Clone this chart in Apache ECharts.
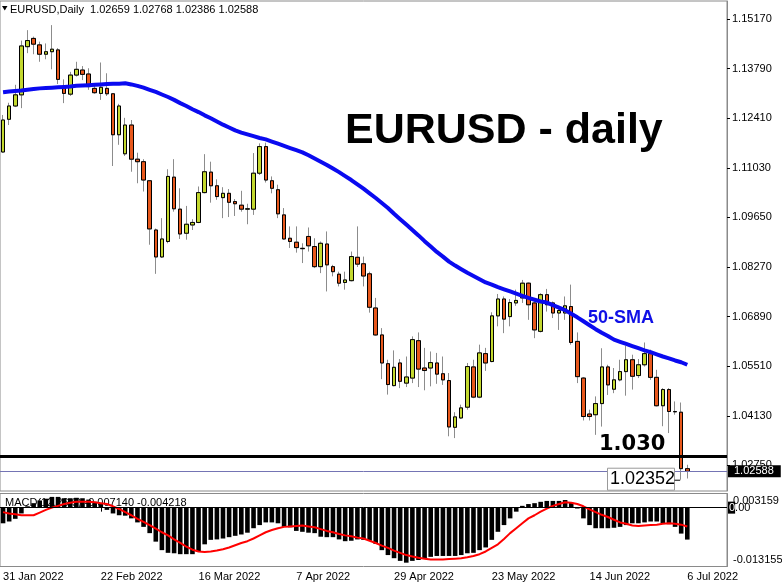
<!DOCTYPE html>
<html><head><meta charset="utf-8">
<script src="https://cdn.jsdelivr.net/npm/echarts@6/dist/echarts.min.js"></script>
<style>html,body{margin:0;padding:0;background:#fff}#c{width:782px;height:587px}</style>
</head><body><div id="c"></div>
<script>
// ---------------- data ----------------
const dates = ['31 Jan 2022','1 Feb 2022','2 Feb 2022','3 Feb 2022','4 Feb 2022','7 Feb 2022','8 Feb 2022','9 Feb 2022','10 Feb 2022','11 Feb 2022',
'14 Feb 2022','15 Feb 2022','16 Feb 2022','17 Feb 2022','18 Feb 2022','21 Feb 2022','22 Feb 2022','23 Feb 2022','24 Feb 2022','25 Feb 2022',
'28 Feb 2022','1 Mar 2022','2 Mar 2022','3 Mar 2022','4 Mar 2022','7 Mar 2022','8 Mar 2022','9 Mar 2022','10 Mar 2022','11 Mar 2022',
'14 Mar 2022','15 Mar 2022','16 Mar 2022','17 Mar 2022','18 Mar 2022','21 Mar 2022','22 Mar 2022','23 Mar 2022','24 Mar 2022','25 Mar 2022',
'28 Mar 2022','29 Mar 2022','30 Mar 2022','31 Mar 2022','1 Apr 2022','4 Apr 2022','5 Apr 2022','6 Apr 2022','7 Apr 2022','8 Apr 2022',
'11 Apr 2022','12 Apr 2022','13 Apr 2022','14 Apr 2022','15 Apr 2022','18 Apr 2022','19 Apr 2022','20 Apr 2022','21 Apr 2022','22 Apr 2022',
'25 Apr 2022','26 Apr 2022','27 Apr 2022','28 Apr 2022','29 Apr 2022','2 May 2022','3 May 2022','4 May 2022','5 May 2022','6 May 2022',
'9 May 2022','10 May 2022','11 May 2022','12 May 2022','13 May 2022','16 May 2022','17 May 2022','18 May 2022','19 May 2022','20 May 2022',
'23 May 2022','24 May 2022','25 May 2022','26 May 2022','27 May 2022','30 May 2022','31 May 2022','1 Jun 2022','2 Jun 2022','3 Jun 2022',
'6 Jun 2022','7 Jun 2022','8 Jun 2022','9 Jun 2022','10 Jun 2022','13 Jun 2022','14 Jun 2022','15 Jun 2022','16 Jun 2022','17 Jun 2022',
'20 Jun 2022','21 Jun 2022','22 Jun 2022','23 Jun 2022','24 Jun 2022','27 Jun 2022','28 Jun 2022','29 Jun 2022','30 Jun 2022','1 Jul 2022',
'4 Jul 2022','5 Jul 2022','6 Jul 2022'];

const openP = [1.1147,1.1238,1.1275,1.1306,1.1440,1.1463,1.1445,1.1419,1.1426,1.1431,
1.1329,1.1308,1.1361,1.1375,1.1364,1.1324,1.1310,1.1324,1.1309,1.1195,
1.1142,1.1222,1.1127,1.1120,1.1067,1.0930,1.0855,1.0898,1.1077,1.0988,
1.0921,1.0944,1.0951,1.1034,1.1091,1.1053,1.1020,1.1032,1.1009,1.0999,
1.0988,1.0988,1.1088,1.1162,1.1067,1.1042,1.0972,1.0907,1.0896,1.0879,
1.0912,1.0884,1.0828,1.0891,1.0828,1.0807,1.0784,1.0789,1.0854,1.0836,
1.0808,1.0713,1.0638,1.0558,1.0497,1.0560,1.0504,1.0518,1.0622,1.0546,
1.0546,1.0560,1.0530,1.0511,1.0381,1.0407,1.0437,1.0549,1.0465,1.0586,
1.0564,1.0691,1.0738,1.0689,1.0727,1.0741,1.0782,1.0727,1.0648,1.0750,
1.0727,1.0699,1.0699,1.0717,1.0620,1.0518,1.0418,1.0416,1.0447,1.0549,
1.0487,1.0513,1.0536,1.0569,1.0525,1.0555,1.0586,1.0520,1.0441,1.0486,
1.0425,1.0423,1.02659];

const highP = [1.1250,1.1284,1.1334,1.1457,1.1486,1.1468,1.1454,1.1449,1.1500,1.1436,
1.1349,1.1370,1.1398,1.1386,1.1380,1.1334,1.1396,1.1366,1.1310,1.1281,
1.1242,1.1236,1.1145,1.1127,1.1069,1.0934,1.0963,1.1099,1.1127,1.1046,
1.0997,1.0960,1.1051,1.1141,1.1120,1.1071,1.1049,1.1044,1.1016,1.1039,
1.1003,1.1144,1.1171,1.1173,1.1079,1.1056,1.0991,1.0940,1.0940,1.0893,
1.0937,1.0907,1.0898,1.0926,1.0833,1.0814,1.0814,1.0870,1.0940,1.0856,
1.0814,1.0741,1.0657,1.0569,1.0595,1.0571,1.0578,1.0634,1.0645,1.0602,
1.0592,1.0588,1.0578,1.0532,1.0423,1.0444,1.0560,1.0569,1.0611,1.0602,
1.0701,1.0752,1.0745,1.0738,1.0764,1.0791,1.0784,1.0731,1.0754,1.0766,
1.0731,1.0719,1.0745,1.0778,1.0645,1.0521,1.0430,1.0467,1.0601,1.0555,
1.0546,1.0569,1.0608,1.0583,1.0571,1.0617,1.0597,1.0541,1.0490,1.0490,
1.0453,1.0450,1.02768];

const lowP = [1.1145,1.1222,1.1272,1.1269,1.1422,1.1419,1.1398,1.1405,1.1377,1.1336,
1.1283,1.1303,1.1357,1.1347,1.1320,1.1309,1.1292,1.1303,1.1108,1.1167,
1.1136,1.1092,1.1060,1.1037,1.0889,1.0808,1.0852,1.0893,1.0981,1.0905,
1.0903,1.0930,1.0949,1.1032,1.1006,1.1014,1.0963,1.0966,1.0969,1.0981,
1.0946,1.0972,1.1083,1.1062,1.1032,1.0963,1.0903,1.0880,1.0867,1.0838,
1.0870,1.0824,1.0810,1.0759,1.0801,1.0773,1.0764,1.0787,1.0827,1.0773,
1.0700,1.0636,1.0515,1.0472,1.0495,1.0490,1.0493,1.0504,1.0493,1.0484,
1.0495,1.0502,1.0499,1.0356,1.0351,1.0404,1.0430,1.0462,1.0462,1.0538,
1.0562,1.0662,1.0643,1.0662,1.0719,1.0727,1.0680,1.0629,1.0645,1.0703,
1.0685,1.0652,1.0680,1.0611,1.0504,1.0400,1.0400,1.0360,1.0383,1.0471,
1.0476,1.0509,1.0469,1.0486,1.0518,1.0550,1.0513,1.0439,1.0384,1.0365,
1.0416,1.02352,1.02386];

const closeP = [1.1236,1.1275,1.1306,1.1442,1.1457,1.1447,1.1419,1.1426,1.1433,1.1349,
1.1310,1.1361,1.1377,1.1363,1.1329,1.1312,1.1327,1.1309,1.1195,1.1275,
1.1222,1.1127,1.1120,1.1069,1.0933,1.0855,1.0905,1.1079,1.0989,1.0919,
1.0946,1.0951,1.1034,1.1092,1.1053,1.1023,1.1032,1.1007,1.1003,1.0988,
1.0989,1.1088,1.1162,1.1069,1.1046,1.0975,1.0905,1.0898,1.0881,1.0878,
1.0886,1.0828,1.0893,1.0833,1.0814,1.0782,1.0791,1.0856,1.0835,1.0802,
1.0715,1.0638,1.0560,1.0500,1.0548,1.0509,1.0521,1.0625,1.0543,1.0539,
1.0561,1.0529,1.0513,1.0382,1.0410,1.0435,1.0550,1.0465,1.0588,1.0560,
1.0691,1.0738,1.0682,1.0728,1.0734,1.0782,1.0722,1.0652,1.0750,1.0722,
1.0699,1.0706,1.0719,1.0617,1.0522,1.0411,1.0411,1.0447,1.0549,1.0499,
1.0513,1.0536,1.0569,1.0523,1.0555,1.0586,1.0520,1.0441,1.0486,1.0425,
1.0424,1.0266,1.02588];

const sma50 = [1.1313,1.1315,1.1317,1.1318,1.1320,1.1322,1.1324,1.1325,1.1326,1.1327,
1.1328,1.1329,1.1331,1.1332,1.1333,1.1334,1.1335,1.1336,1.1337,1.1337,
1.1338,1.1335,1.1331,1.1326,1.1320,1.1314,1.1307,1.1300,1.1292,1.1283,
1.1275,1.1266,1.1258,1.1249,1.1241,1.1232,1.1223,1.1215,1.1207,1.1201,
1.1196,1.1191,1.1186,1.1182,1.1176,1.1170,1.1164,1.1158,1.1152,1.1146,
1.1138,1.1129,1.1120,1.1111,1.1101,1.1091,1.1080,1.1069,1.1057,1.1045,
1.1032,1.1019,1.1005,1.0991,1.0975,1.0960,1.0945,1.0930,1.0915,1.0899,
1.0884,1.0869,1.0856,1.0842,1.0831,1.0821,1.0811,1.0802,1.0793,1.0784,
1.0778,1.0771,1.0765,1.0759,1.0753,1.0747,1.0741,1.0736,1.0731,1.0728,
1.0721,1.0714,1.0707,1.0697,1.0687,1.0676,1.0665,1.0654,1.0644,1.0635,
1.0625,1.0619,1.0613,1.0607,1.0601,1.0595,1.0590,1.0584,1.0578,1.0573,
1.0567,1.0562,1.0555];

const macdMain = [-0.0035,-0.0031,-0.0025,-0.0013,0.0003,0.0010,0.0016,0.0020,0.0024,0.0024,
0.0021,0.0021,0.0022,0.0021,0.0018,0.0013,0.0008,-0.0005,-0.0013,-0.0017,
-0.0018,-0.0024,-0.0033,-0.0043,-0.0057,-0.0076,-0.0095,-0.0101,-0.0102,-0.0104,
-0.0104,-0.0104,-0.0099,-0.0082,-0.0072,-0.0071,-0.0069,-0.0066,-0.0063,-0.0060,
-0.0056,-0.0046,-0.0039,-0.0033,-0.0033,-0.0035,-0.0043,-0.0044,-0.0052,-0.0054,
-0.0056,-0.0057,-0.0065,-0.0066,-0.0066,-0.0071,-0.0075,-0.0074,-0.0071,-0.0072,
-0.0074,-0.0081,-0.0095,-0.0106,-0.0113,-0.0119,-0.0123,-0.0119,-0.0117,-0.0113,
-0.0110,-0.0108,-0.0108,-0.0108,-0.0108,-0.0106,-0.0102,-0.0101,-0.0095,-0.0089,
-0.0072,-0.0054,-0.0039,-0.0024,-0.0009,0.0004,0.0008,0.0010,0.0013,0.0015,
0.0015,0.0015,0.0017,0.0011,-0.0002,-0.0024,-0.0039,-0.0046,-0.0046,-0.0046,
-0.0045,-0.0043,-0.0039,-0.0035,-0.0035,-0.0033,-0.0031,-0.0031,-0.0035,-0.0037,
-0.0043,-0.0058,-0.007140];

const macdSignal = [-0.0010,-0.0013,-0.0015,-0.0017,-0.0017,-0.0017,-0.0011,-0.0005,0.0000,0.0004,
0.0008,0.0011,0.0013,0.0013,0.0013,0.0012,0.0010,0.0008,0.0003,-0.0003,
-0.0010,-0.0017,-0.0025,-0.0032,-0.0039,-0.0047,-0.0055,-0.0062,-0.0071,-0.0079,
-0.0087,-0.0094,-0.0098,-0.0099,-0.0098,-0.0096,-0.0093,-0.0089,-0.0084,-0.0079,
-0.0075,-0.0069,-0.0062,-0.0055,-0.0050,-0.0046,-0.0043,-0.0042,-0.0041,-0.0040,
-0.0042,-0.0044,-0.0048,-0.0052,-0.0055,-0.0059,-0.0062,-0.0064,-0.0067,-0.0069,
-0.0074,-0.0079,-0.0085,-0.0090,-0.0096,-0.0101,-0.0106,-0.0109,-0.0112,-0.0114,
-0.0116,-0.0116,-0.0116,-0.0115,-0.0114,-0.0113,-0.0111,-0.0108,-0.0104,-0.0098,
-0.0090,-0.0082,-0.0070,-0.0057,-0.0046,-0.0035,-0.0024,-0.0017,-0.0009,-0.0002,
0.0004,0.0008,0.0012,0.0011,0.0008,0.0003,-0.0004,-0.0010,-0.0016,-0.0021,
-0.0027,-0.0033,-0.0036,-0.0040,-0.0041,-0.0040,-0.0039,-0.0038,-0.0036,-0.0035,
-0.0036,-0.0038,-0.004218];

const priceTicks = [1.15170,1.13790,1.12410,1.11030,1.09650,1.08270,1.06890,1.05510,1.04130,1.02750];
const macdTicks = [0.003159,-0.013155];
const shiftSlots = 6;              // empty bars of chart shift on the right
const supportLevel = 1.030;
const lastLow = 1.02352;
const bidPrice = closeP[closeP.length - 1];
const header = 'EURUSD,Daily  ' + [openP, highP, lowP, closeP].map(a => a[a.length - 1].toFixed(5)).join(' ');
const macdHeader = 'MACD(12,26,9) ' + macdMain[macdMain.length - 1].toFixed(6) + ' ' + macdSignal[macdSignal.length - 1].toFixed(6);

// ---------------- chart ----------------
const cats = dates.concat(Array(shiftSlots).fill(''));
const wickData = dates.map((d, i) => [openP[i], closeP[i], lowP[i], highP[i]]);
const bodyData = dates.map((d, i) => [openP[i], closeP[i], Math.min(openP[i], closeP[i]), Math.max(openP[i], closeP[i])]);
const FONT = '"Liberation Sans", Arial, sans-serif';
const GRIDW = 727;

const chart = echarts.init(document.getElementById('c'), null, {renderer: 'canvas'});
const option = {
  animation: false,
  backgroundColor: '#ffffff',
  grid: [
    {left: 0, top: 1, width: GRIDW, height: 490, show: true, borderColor: '#8a8a8a', borderWidth: 1},
    {left: 0, top: 493.5, width: GRIDW, height: 73, show: true, borderColor: '#8a8a8a', borderWidth: 1}
  ],
  xAxis: [
    {type: 'category', gridIndex: 0, data: cats, boundaryGap: true,
     axisLine: {show: false}, axisTick: {show: false}, axisLabel: {show: false}, splitLine: {show: false}},
    {type: 'category', gridIndex: 1, data: cats, boundaryGap: true,
     axisLine: {show: false},
     axisTick: {show: true, interval: 15, alignWithLabel: true, length: 4, lineStyle: {color: '#000'}},
     axisLabel: {show: true, interval: 15, align: 'left', margin: 5, color: '#000', fontFamily: FONT, fontSize: 11,
       formatter: v => v},
     splitLine: {show: false}}
  ],
  yAxis: [
    {type: 'value', gridIndex: 0, position: 'right', min: 1.02038, max: 1.15671,
     axisLine: {show: true, lineStyle: {color: '#8a8a8a'}},
     axisTick: {show: true, length: 3, customValues: priceTicks, lineStyle: {color: '#000'}},
     axisLabel: {show: true, customValues: priceTicks, formatter: v => v.toFixed(5), margin: 5,
       color: '#000', fontFamily: FONT, fontSize: 11},
     splitLine: {show: false}},
    {type: 'value', gridIndex: 1, position: 'right', min: macdTicks[1], max: macdTicks[0],
     axisLine: {show: true, lineStyle: {color: '#8a8a8a'}},
     axisTick: {show: false}, axisLabel: {show: false}, splitLine: {show: false}}
  ],
  series: [
    {type: 'candlestick', name: 'wick', xAxisIndex: 0, yAxisIndex: 0, data: wickData, barWidth: 4, z: 2,
     itemStyle: {color: '#8c8c8c', color0: '#8c8c8c', borderColor: '#8c8c8c', borderColor0: '#8c8c8c', borderWidth: 1}},
    {type: 'candlestick', name: 'body', xAxisIndex: 0, yAxisIndex: 0, data: bodyData, barWidth: 4, z: 3,
     itemStyle: {color: '#c3d82f', color0: '#e8581c', borderColor: '#000', borderColor0: '#000', borderWidth: 1}},
    {type: 'line', name: '50-SMA', xAxisIndex: 0, yAxisIndex: 0, data: sma50, symbol: 'none', z: 4,
     lineStyle: {color: '#0a0af0', width: 4},
     markLine: {silent: true, symbol: ['none', 'none'], animation: false, precision: 5,
       data: [
         {yAxis: supportLevel, lineStyle: {color: '#000', width: 3, type: 'solid'}, label: {show: false}},
         {yAxis: bidPrice, lineStyle: {color: '#7474b4', width: 1, type: 'solid'},
          label: {show: true, position: 'end', distance: 1, formatter: bidPrice.toFixed(5), backgroundColor: '#000',
                  color: '#fff', fontFamily: FONT, fontSize: 11, padding: [1, 7, 0, 6], lineHeight: 11}}
       ]}},
    {type: 'bar', name: 'MACD', xAxisIndex: 1, yAxisIndex: 1, data: macdMain, barWidth: 4.6, z: 3,
     itemStyle: {color: '#000'},
     markLine: {silent: true, symbol: ['none', 'none'], animation: false,
       data: [{yAxis: 0, lineStyle: {color: '#000', width: 1, type: 'solid'},
         label: {show: true, position: 'end', distance: 1, formatter: '{a|0}{b|.00}', fontFamily: FONT, fontSize: 11,
           rich: {a: {backgroundColor: '#000', color: '#fff', fontFamily: FONT, fontSize: 11, padding: [1, 0, 0, 1]},
                  b: {color: '#000', fontFamily: FONT, fontSize: 11}}}}]}},
    {type: 'line', name: 'Signal', xAxisIndex: 1, yAxisIndex: 1, data: macdSignal, symbol: 'none', z: 4,
     lineStyle: {color: '#ff0000', width: 2}}
  ]
};
chart.setOption(option);

// annotations
const lowPix = chart.convertToPixel({xAxisIndex: 0, yAxisIndex: 0}, [dates.length - 2, lastLow]);
const supPix = chart.convertToPixel({xAxisIndex: 0, yAxisIndex: 0}, [0, supportLevel]);
const mTop = chart.convertToPixel({yAxisIndex: 1}, macdTicks[0]);
const mBot = chart.convertToPixel({yAxisIndex: 1}, macdTicks[1]);
const axisX = GRIDW + 6;
chart.setOption({graphic: [
  {type: 'polygon', shape: {points: [[2, 6], [7.5, 6], [4.75, 10.5]]}, style: {fill: '#000'}, z: 10},
  {type: 'text', x: 10, y: 10, z: 10, style: {text: header, font: '11px ' + FONT, fill: '#000', textVerticalAlign: 'middle'}},
  {type: 'text', x: 5, y: 503, z: 0, zlevel: 0, style: {text: macdHeader, font: '11px ' + FONT, fill: '#000', textVerticalAlign: 'middle'}},
  {type: 'text', x: axisX, y: mTop + 7, z: 10, style: {text: macdTicks[0].toFixed(6), font: '11px ' + FONT, fill: '#000', textVerticalAlign: 'middle'}},
  {type: 'text', x: axisX, y: mBot - 7, z: 10, style: {text: macdTicks[1].toFixed(6), font: '11px ' + FONT, fill: '#000', textVerticalAlign: 'middle'}},
  {type: 'text', x: 345, y: 131, z: 10, style: {text: 'EURUSD - daily', font: 'bold 43px ' + FONT, fill: '#000', textVerticalAlign: 'middle'}},
  {type: 'text', x: 588, y: 318, z: 10, style: {text: '50-SMA', font: 'bold 18px ' + FONT, fill: '#1010e6', textVerticalAlign: 'middle'}},
  {type: 'text', x: 599, y: supPix[1] - 12, z: 10, style: {text: supportLevel.toFixed(3), font: 'bold 21px "DejaVu Sans", sans-serif', fill: '#000', textVerticalAlign: 'middle'}},
  {type: 'rect', shape: {x: 607.5, y: lowPix[1] - 11.5, width: 67, height: 22}, style: {fill: '#fff', stroke: '#9a9a9a', lineWidth: 1}, z: 10},
  {type: 'text', x: 610, y: lowPix[1] - 0.5, z: 11, style: {text: lastLow.toFixed(5), font: '18px ' + FONT, fill: '#000', textVerticalAlign: 'middle'}},
  {type: 'line', shape: {x1: 674.5, y1: lowPix[1] + 0.5, x2: lowPix[0] - 1, y2: lowPix[1] + 0.5}, style: {stroke: '#000', lineWidth: 1}, z: 11}
]});
</script></body></html>
